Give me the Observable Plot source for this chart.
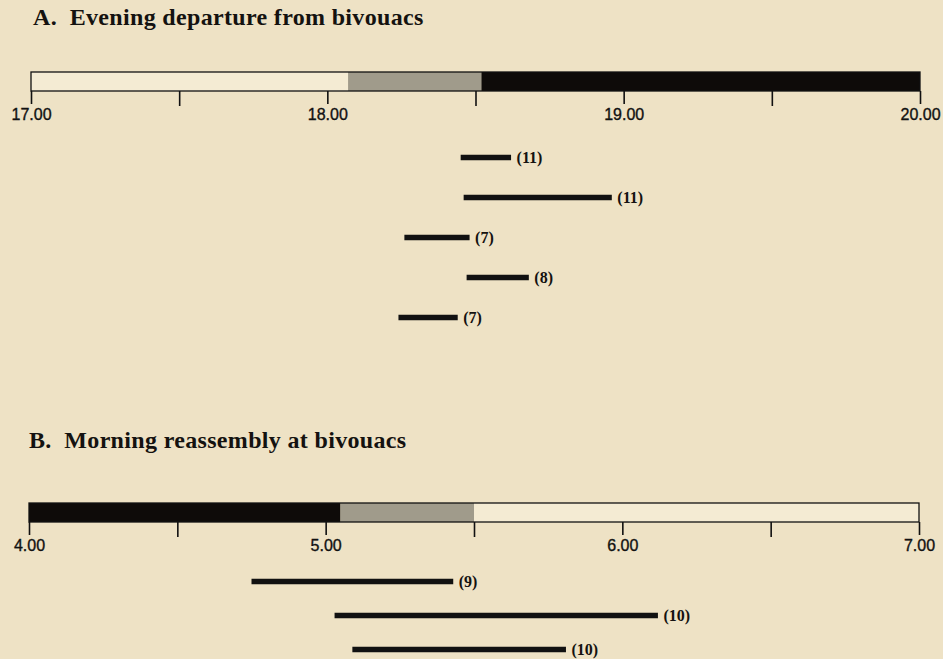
<!DOCTYPE html>
<html><head><meta charset="utf-8">
<script src="https://cdn.jsdelivr.net/npm/d3@7"></script>
<script src="https://cdn.jsdelivr.net/npm/@observablehq/plot@0.6"></script>
<style>
html,body{margin:0;padding:0;background:#eee2c5;}
#wrap{position:relative;width:943px;height:659px;overflow:hidden;background:#eee2c5;}
.title{position:absolute;font-family:"Liberation Serif","Times New Roman",serif;font-weight:bold;font-size:24px;letter-spacing:0.33px;line-height:1;color:#141210;white-space:pre;}
.p{position:absolute;left:0;}
.p g[aria-label="x-axis tick label"]{stroke:#111;stroke-width:0.35px;}
</style></head><body><div id="wrap"></div>
<script>
// Light phases
const phaseNames = ["day", "twilight", "night"];
const phaseColors = ["#f4ebd3", "#a09b8b", "#0e0b09"];

// A. Evening departure
const eveningTitle = "A.  Evening departure from bivouacs";
const eveningDomain = [17, 20];
const eveningPhases = ["day", "twilight", "night"];
const eveningPhaseStart = [17.00, 18.07, 18.52];
const eveningPhaseEnd = [18.07, 18.52, 20.00];
const eveningMajorTicks = [17, 18, 19, 20];
const eveningMinorTicks = [17.5, 18.5, 19.5];
const eveningRows = [1, 2, 3, 4, 5];
const eveningStart = [18.45, 18.46, 18.26, 18.47, 18.24];
const eveningEnd = [18.62, 18.96, 18.48, 18.68, 18.44];
const eveningN = [11, 11, 7, 8, 7];

// B. Morning reassembly
const morningTitle = "B.  Morning reassembly at bivouacs";
const morningDomain = [4, 7];
const morningPhases = ["night", "twilight", "day"];
const morningPhaseStart = [4.00, 5.05, 5.50];
const morningPhaseEnd = [5.05, 5.50, 7.00];
const morningMajorTicks = [4, 5, 6, 7];
const morningMinorTicks = [4.5, 5.5, 6.5];
const morningRows = [1, 2, 3];
const morningStart = [4.75, 5.03, 5.09];
const morningEnd = [5.43, 6.12, 5.81];
const morningN = [9, 10, 10];

const wrap = document.getElementById("wrap");
const W = 943;

function addTitle(text, top, left) {
  const d = document.createElement("div");
  d.className = "title";
  d.textContent = text;
  d.style.top = top + "px";
  d.style.left = left + "px";
  wrap.appendChild(d);
}

function place(node, top) {
  node.classList.add("p");
  node.style.top = top + "px";
  wrap.appendChild(node);
}

function lightBar(domain, ml, mr, phases, starts, ends, major, minor) {
  const data = phases.map((p, i) => ({phase: p, start: starts[i], end: ends[i]}));
  return Plot.plot({
    width: W, height: 75,
    marginLeft: ml, marginRight: mr, marginTop: 18, marginBottom: 38,
    style: {background: "transparent", color: "#111", fontFamily: "'Liberation Sans', Arial, sans-serif", fontSize: "16px", overflow: "visible"},
    x: {domain, range: [ml, W - mr]},
    color: {domain: phaseNames, range: phaseColors},
    marks: [
      Plot.rect(data, {x1: "start", x2: "end", fill: "phase"}),
      Plot.rect([{a: domain[0], b: domain[1]}], {x1: "a", x2: "b", fill: "none", stroke: "#111", strokeWidth: 1.3}),
      Plot.axisX({ticks: major, tickFormat: d => d.toFixed(2), tickSize: 13, tickPadding: 4, strokeWidth: 1.6, fontSize: 16, fill: "#111", stroke: "#111"}),
      Plot.axisX({ticks: minor, tickFormat: () => "", tickSize: 15, strokeWidth: 1.6})
    ]
  });
}

function ranges(domain, ml, mr, rows, starts, ends, ns, height, yRange) {
  const data = rows.map((r, i) => ({row: r, start: starts[i], end: ends[i], n: ns[i]}));
  return Plot.plot({
    width: W, height,
    marginLeft: ml, marginRight: mr, marginTop: 0, marginBottom: 0,
    style: {background: "transparent", color: "#111", overflow: "visible"},
    x: {domain, range: [ml, W - mr], axis: null},
    y: {type: "point", domain: rows, range: yRange, padding: 0, axis: null},
    marks: [
      Plot.ruleY(data, {y: "row", x1: "start", x2: "end", stroke: "#111", strokeWidth: 5.5, strokeLinecap: "butt"}),
      Plot.text(data, {y: "row", x: "end", text: d => `(${d.n})`, dx: 5, textAnchor: "start", lineAnchor: "middle",
        fontFamily: "'Liberation Serif', 'Times New Roman', serif", fontWeight: "bold", fontSize: 16, fill: "#141210"})
    ]
  });
}

// Panel A
addTitle(eveningTitle, 5, 33);
place(lightBar(eveningDomain, 31, 23, eveningPhases, eveningPhaseStart, eveningPhaseEnd, eveningMajorTicks, eveningMinorTicks), 54);
place(ranges(eveningDomain, 31, 23, eveningRows, eveningStart, eveningEnd, eveningN, 210, [25.7, 188.3]), 130);

// Panel B
addTitle(morningTitle, 428, 29);
place(lightBar(morningDomain, 29, 24, morningPhases, morningPhaseStart, morningPhaseEnd, morningMajorTicks, morningMinorTicks), 485);
place(ranges(morningDomain, 29, 24, morningRows, morningStart, morningEnd, morningN, 99, [20, 89.3]), 560);
</script></body></html>
